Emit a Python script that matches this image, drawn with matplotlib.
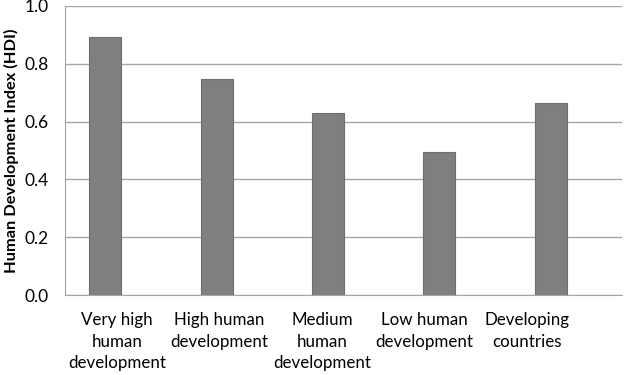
import numpy as np
import matplotlib.pyplot as plt

categories = ['Very high\nhuman\ndevelopment', 'High human\ndevelopment',
              'Medium\nhuman\ndevelopment', 'Low human\ndevelopment',
              'Developing\ncountries']
hdi = [0.892, 0.746, 0.630, 0.496, 0.665]
yticks = [0.0, 0.2, 0.4, 0.6, 0.8, 1.0]

plt.rcParams['font.family'] = ['Lato', 'DejaVu Sans']

fig = plt.figure(figsize=(6.24, 3.75), dpi=100)
ax = fig.add_axes([65 / 624, 1 - 295 / 375, 557 / 624, 289 / 375])

x = np.arange(len(categories))
ax.bar(x, hdi, width=0.287, color='#7f7f7f', edgecolor='#6e6e6e',
       linewidth=0.8, zorder=3)

ax.set_ylim(0, 1.0)
ax.set_xlim(-0.359, 4.637)
ax.set_yticks(yticks)
ax.set_yticklabels([f'{v:.1f}' for v in yticks], fontsize=12.5)
ax.yaxis.grid(True, color='#a6a6a6', linewidth=1.0, zorder=0)
ax.tick_params(axis='y', length=0, pad=12)

# labels sit a bit left of the bars in the original
ax.set_xticks(x * 0.918 + 0.11)
ax.set_xticklabels(categories, fontsize=12.2, linespacing=1.45)
ax.tick_params(axis='x', length=0, pad=12)

for s in ['top', 'right']:
    ax.spines[s].set_visible(False)
ax.spines['left'].set_color('#a6a6a6')
ax.spines['bottom'].set_color('#a6a6a6')

ax.set_ylabel('Human Development Index (HDI)', fontsize=11.8, fontweight='bold')
ax.yaxis.set_label_coords(-0.082, 0.5)

fig.savefig('out.png', dpi=100)
